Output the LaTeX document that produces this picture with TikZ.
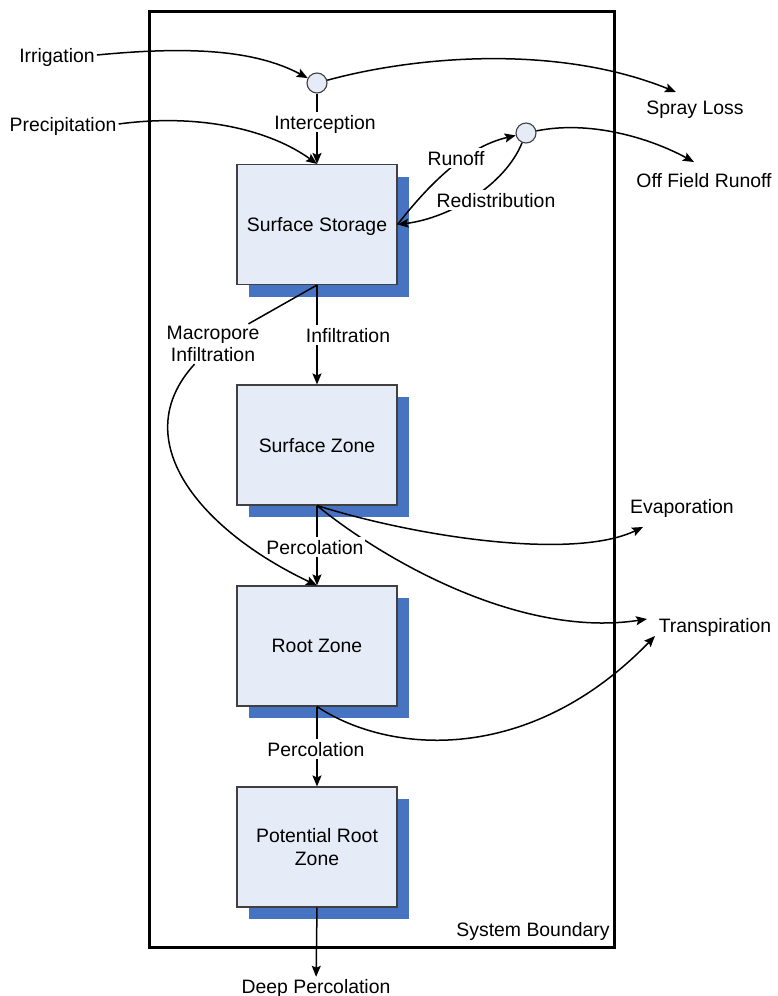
\documentclass[tikz,border=0pt]{standalone}
\usepackage{fontspec}
\setmainfont{Liberation Sans}
\usetikzlibrary{arrows.meta,shadows}
\definecolor{boxfill}{HTML}{E6ECF7}
\definecolor{boxedge}{HTML}{404040}
\definecolor{shadowblue}{HTML}{4674C2}
\begin{document}
\begin{tikzpicture}[x=1pt,y=-1pt,
  every node/.style={font=\fontsize{19.4}{22.5}\selectfont, text=black},
  zone/.style={draw=boxedge, line width=1.1pt, fill=boxfill,
    minimum width=160pt, minimum height=120pt, inner sep=0pt, align=center,
    general shadow={fill=shadowblue, shadow xshift=12pt, shadow yshift=-12pt}},
  zoneone/.style={zone, text depth=0pt},
  junction/.style={circle, draw=boxedge, line width=1.1pt, fill=boxfill,
    minimum size=20pt, inner sep=0pt},
  term/.style={inner sep=2pt, text depth=0pt},
  lbl/.style={fill=white, inner xsep=1pt, inner ysep=2.5pt, text depth=0pt},
  link/.style={line width=1.5pt},
  flow/.style={link, -{Stealth[length=11pt,width=9pt,inset=2pt]}}]

\useasboundingbox (0,0) rectangle (778,996);

% system boundary
\node[draw, line width=3pt, minimum width=465pt, minimum height=936pt, inner sep=0pt]
  (sysb) at (381.5,479) {};
\node[term] (sysl) at (533,929) {System Boundary};

% storage compartments
\node[zoneone] (ss) at (317,224.5) {Surface Storage};
\node[zoneone] (sz) at (317,445)   {Surface Zone};
\node[zoneone] (rz) at (317,646)   {Root Zone};
\node[zone] (prz)   at (317,847)   {Potential Root\\Zone};

% splitting points
\node[junction] (c1) at (317,83) {};
\node[junction] (c2) at (526,133) {};

% sources and sinks
\node[term] (irr)    at (57,55)   {Irrigation};
\node[term] (prec)   at (63,124)  {Precipitation};
\node[term] (spray)  at (695,108) {Spray Loss};
\node[term] (off)    at (704,180) {Off Field Runoff};
\node[term] (evap)   at (682,506) {Evaporation};
\node[term] (transp) at (715,625) {Transpiration};
\node[term] (deep)   at (316,986) {Deep Percolation};
\node[term, align=center] (mac) at (213,344) {Macropore\\Infiltration};

\coordinate (sprayTip) at (676,92);
\coordinate (offTip)   at (694,162);
\coordinate (evTip)    at (643,527);
\coordinate (trA)      at (647,619);
\coordinate (trB)      at (655,636);

% inputs
\draw[flow] (irr.east) .. controls (190,46) and (255,50) .. (c1);
\draw[flow] (prec.east) .. controls (200,113) and (270,130) .. (ss.north);
\draw[flow] (c1) -- (ss.north);
\draw[flow] (c1) .. controls (420,55) and (560,45) .. (sprayTip);

% surface runoff loop
\draw[flow] (ss.east) .. controls (440,170) and (475,145) .. (c2);
\draw[flow] (c2) .. controls (505,185) and (450,218) .. (ss.east);
\draw[flow] (c2) .. controls (590,120) and (650,138) .. (offTip);

% vertical movement
\draw[flow] (ss.south) -- (sz.north);
\draw[link] (ss.south) -- (mac);
\draw[flow] (mac) .. controls (125,440) and (200,530) .. (rz.north);
\draw[flow] (sz.south) -- (rz.north);
\draw[flow] (rz.south) -- (prz.north);
\draw[flow] (prz.south) -- (deep);

% losses to the atmosphere
\draw[flow] (sz.south) .. controls (420,538) and (575,560) .. (evTip);
\draw[flow] (sz.south) .. controls (390,565) and (525,638) .. (trA);
\draw[flow] (rz.south) .. controls (390,755) and (530,765) .. (trB);

% flow labels
\node[lbl] (intcL)  at (325,122) {Interception};
\node[lbl] (runL)   at (456,158) {Runoff};
\node[lbl] (redisL) at (496,200) {Redistribution};
\node[lbl] (infL)   at (348,335) {Infiltration};
\node[lbl] (percA)  at (315,547) {Percolation};
\node[lbl] (percB)  at (316,749) {Percolation};
\end{tikzpicture}
\end{document}
